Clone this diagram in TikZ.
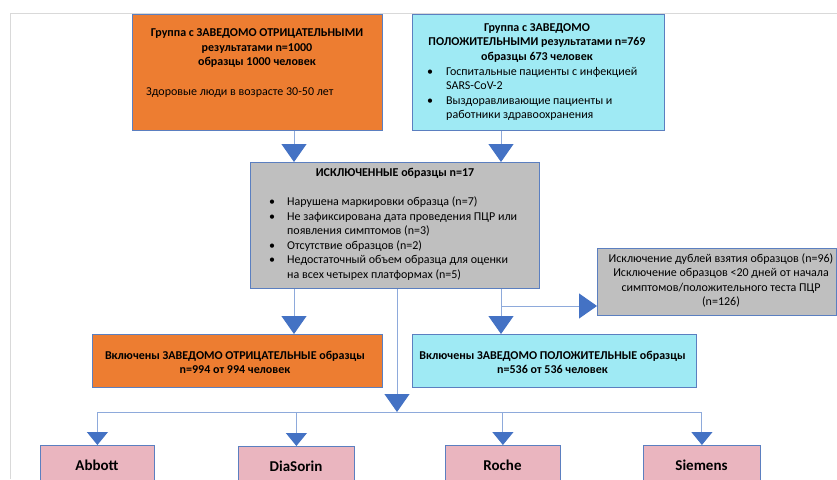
\documentclass[tikz,border=0pt]{standalone}
\usepackage{fontspec}
\setmainfont{Carlito}
\usetikzlibrary{arrows.meta}
\definecolor{orng}{HTML}{ED7D31}
\definecolor{cyanbox}{HTML}{9FEAF4}
\definecolor{graybox}{HTML}{BFBFBF}
\definecolor{pinkbox}{HTML}{EAB5BF}
\definecolor{boxblue}{HTML}{5B7FC0}
\definecolor{lineblue}{HTML}{8EAADB}
\definecolor{tipblue}{HTML}{4472C4}
\definecolor{pageline}{HTML}{D9D9D9}
\begin{document}
\begin{tikzpicture}[x=1pt,y=-1pt,
  box/.style={draw=boxblue, line width=0.8pt, inner sep=0pt, anchor=north west},
  txt/.style={inner sep=0pt, font=\fontsize{12}{14.5}\selectfont},
  conn/.style={draw=lineblue, line width=1pt},
  bigtip/.style={-{Triangle[width=25pt,length=18pt,color=tipblue]}},
  smalltip/.style={-{Triangle[width=21pt,length=13pt,color=tipblue]}},
  vend/.style={txt, font=\fontsize{15}{18}\selectfont\bfseries}]
\useasboundingbox (0,0) rectangle (837,479);
\clip (0,0) rectangle (837,479);
\fill[white] (0,0) rectangle (837,479);
\draw[pageline, line width=1pt] (10,479) -- (10,13) -- (837,13);

% boxes
\node[box, fill=orng, minimum width=250pt, minimum height=116pt] (neg) at (132,14) {};
\node[box, fill=cyanbox, minimum width=252pt, minimum height=116pt] (pos) at (412,14) {};
\node[box, fill=graybox, minimum width=289pt, minimum height=126pt] (excl) at (250,162) {};
\node[box, fill=graybox, minimum width=239pt, minimum height=67pt] (excl2) at (597,248) {};
\node[box, fill=orng, minimum width=290pt, minimum height=53pt] (neg2) at (92,334) {};
\node[box, fill=cyanbox, minimum width=284pt, minimum height=53pt] (pos2) at (412,334) {};
\node[box, fill=pinkbox, minimum width=114pt, minimum height=45pt] (abbott) at (40,445) {};
\node[box, fill=pinkbox, minimum width=116pt, minimum height=45pt] (diasorin) at (238,446) {};
\node[box, fill=pinkbox, minimum width=115pt, minimum height=45pt] (roche) at (445,445) {};
\node[box, fill=pinkbox, minimum width=117pt, minimum height=45pt] (siemens) at (643,445) {};

% texts
\node[txt, align=center, font=\fontsize{12}{14.5}\selectfont\bfseries] (negT) at (257,48.5)
  {Группа с ЗАВЕДОМО ОТРИЦАТЕЛЬНЫМИ\\результатами n=1000\\образцы 1000 человек};
\node[txt, anchor=west] (negS) at (146,93) {Здоровые люди в возрасте 30-50 лет};

\node[txt, align=center, font=\fontsize{12}{14.5}\selectfont\bfseries] (posT) at (537,43)
  {Группа с ЗАВЕДОМО\\ПОЛОЖИТЕЛЬНЫМИ результатами n=769\\образцы 673 человек};
\node[txt, align=left, anchor=west] (posL) at (427,94)
  {\makebox[19pt][l]{•}Госпитальные пациенты с инфекцией\\
   \hspace*{19pt}SARS-CoV-2\\
   \makebox[19pt][l]{•}Выздоравливающие пациенты и\\
   \hspace*{19pt}работники здравоохранения};

\node[txt, font=\fontsize{12}{14.5}\selectfont\bfseries] (exclT) at (395,173)
  {ИСКЛЮЧЕННЫЕ образцы n=17};
\node[txt, align=left, anchor=west] (exclL) at (269,238.5)
  {\makebox[18pt][l]{•}Нарушена маркировки образца (n=7)\\
   \makebox[18pt][l]{•}Не зафиксирована дата проведения ПЦР или\\
   \hspace*{18pt}появления симптомов (n=3)\\
   \makebox[18pt][l]{•}Отсутствие образцов (n=2)\\
   \makebox[18pt][l]{•}Недостаточный объем образца для оценки\\
   \hspace*{18pt}на всех четырех платформах (n=5)};

\node[txt, align=center] (excl2T) at (721,280.5)
  {Исключение дублей взятия образцов (n=96)\\Исключение образцов <20 дней от начала\\симптомов/положительного теста ПЦР\\(n=126)};

\node[txt, align=center, font=\fontsize{12}{14.5}\selectfont\bfseries] (neg2T) at (235,362.5)
  {Включены ЗАВЕДОМО ОТРИЦАТЕЛЬНЫЕ образцы\\n=994 от 994 человек};
\node[txt, align=center, font=\fontsize{12}{14.5}\selectfont\bfseries] (pos2T) at (552.5,362.5)
  {Включены ЗАВЕДОМО ПОЛОЖИТЕЛЬНЫЕ образцы\\n=536 от 536 человек};

\node[vend] (abbottT) at (97,465) {Abbott};
\node[vend] (diasorinT) at (296,466) {DiaSorin};
\node[vend] (rocheT) at (502.5,465) {Roche};
\node[vend] (siemensT) at (701.5,465) {Siemens};

% connectors
\coordinate (c1) at (294,0);
\coordinate (c2) at (397,0);
\coordinate (c3) at (501,0);
\coordinate (br) at (501,306);
\coordinate (bus) at (397,412);

\draw[conn, bigtip] (c1 |- neg.south) -- (c1 |- excl.north);
\draw[conn, bigtip] (c3 |- pos.south) -- (c3 |- excl.north);
\draw[conn, bigtip] (c1 |- excl.south) -- (c1 |- neg2.north);
\draw[conn, bigtip] (c3 |- excl.south) -- (c3 |- pos2.north);
\draw[conn, bigtip] (br) -- (excl2.west |- br);
\draw[conn, bigtip] (c2 |- excl.south) -- (bus);
\draw[conn] (abbott.north |- bus) -- (siemens.north |- bus);
\draw[conn, smalltip] (abbott.north |- bus) -- (abbott.north);
\draw[conn, smalltip] (diasorin.north |- bus) -- (diasorin.north);
\draw[conn, smalltip] (roche.north |- bus) -- (roche.north);
\draw[conn, smalltip] (siemens.north |- bus) -- (siemens.north);
\end{tikzpicture}
\end{document}
